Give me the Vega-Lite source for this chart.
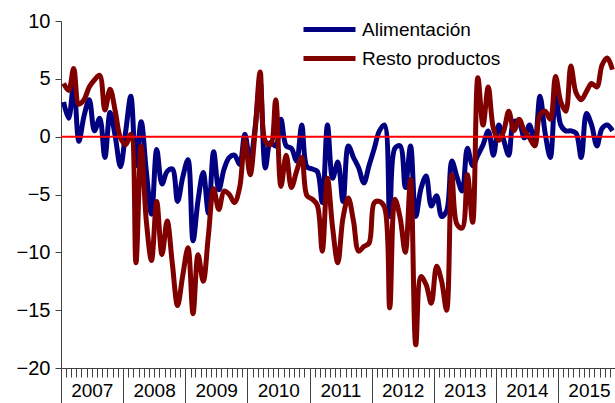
{
  "$schema": "https://vega.github.io/schema/vega-lite/v6.json",
  "width": 554,
  "height": 347,
  "autosize": {"type": "none"},
  "padding": {"left": 61, "top": 21, "right": 0, "bottom": 35},
  "background": "white",
  "config": {"view": {"stroke": null}, "font": "Liberation Sans"},
  "data": {"values": [
    {"fecha": "2007-01-01", "Alimentación": 3.0, "Resto productos": 4.6},
    {"fecha": "2007-02-01", "Alimentación": 1.6, "Resto productos": 4.0},
    {"fecha": "2007-03-01", "Alimentación": 4.5, "Resto productos": 5.9},
    {"fecha": "2007-04-01", "Alimentación": -0.4, "Resto productos": 2.8},
    {"fecha": "2007-05-01", "Alimentación": 1.8, "Resto productos": 3.2},
    {"fecha": "2007-06-01", "Alimentación": 3.2, "Resto productos": 4.3},
    {"fecha": "2007-07-01", "Alimentación": 0.5, "Resto productos": 4.9},
    {"fecha": "2007-08-01", "Alimentación": 1.6, "Resto productos": 5.3},
    {"fecha": "2007-09-01", "Alimentación": -1.8, "Resto productos": 2.3},
    {"fecha": "2007-10-01", "Alimentación": 2.1, "Resto productos": 4.1},
    {"fecha": "2007-11-01", "Alimentación": 0.0, "Resto productos": 2.2},
    {"fecha": "2007-12-01", "Alimentación": -2.6, "Resto productos": -0.1},
    {"fecha": "2008-01-01", "Alimentación": 0.5, "Resto productos": -0.7},
    {"fecha": "2008-02-01", "Alimentación": 3.5, "Resto productos": 0.2},
    {"fecha": "2008-03-01", "Alimentación": -2.5, "Resto productos": -10.9},
    {"fecha": "2008-04-01", "Alimentación": 1.3, "Resto productos": -0.8},
    {"fecha": "2008-05-01", "Alimentación": -3.0, "Resto productos": -7.3},
    {"fecha": "2008-06-01", "Alimentación": -6.7, "Resto productos": -10.7},
    {"fecha": "2008-07-01", "Alimentación": -1.1, "Resto productos": -5.6},
    {"fecha": "2008-08-01", "Alimentación": -4.1, "Resto productos": -10.2},
    {"fecha": "2008-09-01", "Alimentación": -3.0, "Resto productos": -7.3},
    {"fecha": "2008-10-01", "Alimentación": -2.8, "Resto productos": -11.0},
    {"fecha": "2008-11-01", "Alimentación": -5.6, "Resto productos": -14.6},
    {"fecha": "2008-12-01", "Alimentación": -3.5, "Resto productos": -12.0},
    {"fecha": "2009-01-01", "Alimentación": -2.0, "Resto productos": -9.6},
    {"fecha": "2009-02-01", "Alimentación": -9.0, "Resto productos": -15.3},
    {"fecha": "2009-03-01", "Alimentación": -5.5, "Resto productos": -10.2},
    {"fecha": "2009-04-01", "Alimentación": -3.1, "Resto productos": -12.5},
    {"fecha": "2009-05-01", "Alimentación": -6.6, "Resto productos": -8.5},
    {"fecha": "2009-06-01", "Alimentación": -1.3, "Resto productos": -4.5},
    {"fecha": "2009-07-01", "Alimentación": -4.6, "Resto productos": -6.3},
    {"fecha": "2009-08-01", "Alimentación": -2.8, "Resto productos": -4.7},
    {"fecha": "2009-09-01", "Alimentación": -1.8, "Resto productos": -5.0},
    {"fecha": "2009-10-01", "Alimentación": -1.6, "Resto productos": -5.7},
    {"fecha": "2009-11-01", "Alimentación": -2.4, "Resto productos": -4.4},
    {"fecha": "2009-12-01", "Alimentación": 0.2, "Resto productos": -0.3},
    {"fecha": "2010-01-01", "Alimentación": -2.1, "Resto productos": -3.3},
    {"fecha": "2010-02-01", "Alimentación": 0.8, "Resto productos": 0.5},
    {"fecha": "2010-03-01", "Alimentación": 4.8, "Resto productos": 5.6},
    {"fecha": "2010-04-01", "Alimentación": -2.7, "Resto productos": -0.4},
    {"fecha": "2010-05-01", "Alimentación": -0.5, "Resto productos": -0.7},
    {"fecha": "2010-06-01", "Alimentación": -0.8, "Resto productos": 3.2},
    {"fecha": "2010-07-01", "Alimentación": 1.5, "Resto productos": -4.3},
    {"fecha": "2010-08-01", "Alimentación": -0.8, "Resto productos": -1.6},
    {"fecha": "2010-09-01", "Alimentación": -1.0, "Resto productos": -4.4},
    {"fecha": "2010-10-01", "Alimentación": -2.1, "Resto productos": -3.0},
    {"fecha": "2010-11-01", "Alimentación": 1.0, "Resto productos": -1.8},
    {"fecha": "2010-12-01", "Alimentación": -2.6, "Resto productos": -5.1},
    {"fecha": "2011-01-01", "Alimentación": -2.8, "Resto productos": -5.4},
    {"fecha": "2011-02-01", "Alimentación": -3.0, "Resto productos": -5.9},
    {"fecha": "2011-03-01", "Alimentación": -5.7, "Resto productos": -9.9},
    {"fecha": "2011-04-01", "Alimentación": 1.0, "Resto productos": -3.6},
    {"fecha": "2011-05-01", "Alimentación": -3.6, "Resto productos": -7.9},
    {"fecha": "2011-06-01", "Alimentación": -2.2, "Resto productos": -10.9},
    {"fecha": "2011-07-01", "Alimentación": -5.6, "Resto productos": -7.0},
    {"fecha": "2011-08-01", "Alimentación": -0.8, "Resto productos": -5.3},
    {"fecha": "2011-09-01", "Alimentación": -1.8, "Resto productos": -7.3},
    {"fecha": "2011-10-01", "Alimentación": -2.7, "Resto productos": -9.9},
    {"fecha": "2011-11-01", "Alimentación": -4.0, "Resto productos": -9.5},
    {"fecha": "2011-12-01", "Alimentación": -2.5, "Resto productos": -9.2},
    {"fecha": "2012-01-01", "Alimentación": -1.0, "Resto productos": -5.7},
    {"fecha": "2012-02-01", "Alimentación": 0.5, "Resto productos": -5.6},
    {"fecha": "2012-03-01", "Alimentación": 1.0, "Resto productos": -6.1},
    {"fecha": "2012-04-01", "Alimentación": -6.9, "Resto productos": -14.8},
    {"fecha": "2012-05-01", "Alimentación": -1.0, "Resto productos": -5.4},
    {"fecha": "2012-06-01", "Alimentación": -0.8, "Resto productos": -7.0},
    {"fecha": "2012-07-01", "Alimentación": -4.4, "Resto productos": -10.0},
    {"fecha": "2012-08-01", "Alimentación": -0.8, "Resto productos": -3.7},
    {"fecha": "2012-09-01", "Alimentación": -6.9, "Resto productos": -18.0},
    {"fecha": "2012-10-01", "Alimentación": -4.5, "Resto productos": -12.1},
    {"fecha": "2012-11-01", "Alimentación": -3.4, "Resto productos": -12.8},
    {"fecha": "2012-12-01", "Alimentación": -6.0, "Resto productos": -14.4},
    {"fecha": "2013-01-01", "Alimentación": -5.1, "Resto productos": -11.2},
    {"fecha": "2013-02-01", "Alimentación": -6.9, "Resto productos": -12.5},
    {"fecha": "2013-03-01", "Alimentación": -6.4, "Resto productos": -15.0},
    {"fecha": "2013-04-01", "Alimentación": -2.1, "Resto productos": -3.3},
    {"fecha": "2013-05-01", "Alimentación": -3.5, "Resto productos": -7.6},
    {"fecha": "2013-06-01", "Alimentación": -4.7, "Resto productos": -7.9},
    {"fecha": "2013-07-01", "Alimentación": -1.0, "Resto productos": -3.3},
    {"fecha": "2013-08-01", "Alimentación": -2.5, "Resto productos": -7.4},
    {"fecha": "2013-09-01", "Alimentación": -1.6, "Resto productos": 5.1},
    {"fecha": "2013-10-01", "Alimentación": -0.7, "Resto productos": 1.0},
    {"fecha": "2013-11-01", "Alimentación": 0.5, "Resto productos": 4.3},
    {"fecha": "2013-12-01", "Alimentación": -1.6, "Resto productos": 0.7},
    {"fecha": "2014-01-01", "Alimentación": 1.0, "Resto productos": -0.3},
    {"fecha": "2014-02-01", "Alimentación": -0.3, "Resto productos": 0.5},
    {"fecha": "2014-03-01", "Alimentación": -1.6, "Resto productos": 2.2},
    {"fecha": "2014-04-01", "Alimentación": 1.3, "Resto productos": 0.5},
    {"fecha": "2014-05-01", "Alimentación": 1.2, "Resto productos": 1.5},
    {"fecha": "2014-06-01", "Alimentación": -0.1, "Resto productos": 0.5},
    {"fecha": "2014-07-01", "Alimentación": 1.0, "Resto productos": -0.1},
    {"fecha": "2014-08-01", "Alimentación": -0.5, "Resto productos": -0.8},
    {"fecha": "2014-09-01", "Alimentación": 3.5, "Resto productos": 1.9},
    {"fecha": "2014-10-01", "Alimentación": 0.3, "Resto productos": 2.2},
    {"fecha": "2014-11-01", "Alimentación": -1.8, "Resto productos": 1.5},
    {"fecha": "2014-12-01", "Alimentación": 3.6, "Resto productos": 5.2},
    {"fecha": "2015-01-01", "Alimentación": 1.0, "Resto productos": 3.0},
    {"fecha": "2015-02-01", "Alimentación": 0.5, "Resto productos": 2.2},
    {"fecha": "2015-03-01", "Alimentación": 0.5, "Resto productos": 6.1},
    {"fecha": "2015-04-01", "Alimentación": 0.3, "Resto productos": 3.8},
    {"fecha": "2015-05-01", "Alimentación": -1.8, "Resto productos": 3.2},
    {"fecha": "2015-06-01", "Alimentación": 2.0, "Resto productos": 3.9},
    {"fecha": "2015-07-01", "Alimentación": 1.0, "Resto productos": 4.6},
    {"fecha": "2015-08-01", "Alimentación": -0.8, "Resto productos": 4.3},
    {"fecha": "2015-09-01", "Alimentación": 0.7, "Resto productos": 6.2},
    {"fecha": "2015-10-01", "Alimentación": 1.0, "Resto productos": 6.8},
    {"fecha": "2015-11-01", "Alimentación": 0.5, "Resto productos": 5.8}
  ]},
  "layer": [
    {
      "transform": [{"fold": ["Alimentación", "Resto productos"], "as": ["serie", "valor"]}],
      "mark": {"type": "line", "interpolate": "catmull-rom", "strokeWidth": 5, "clip": true},
      "encoding": {
        "x": {
          "field": "fecha", "type": "temporal", "timeUnit": "utcyearmonth", "bandPosition": 0.5,
          "scale": {"domain": [{"year": 2007, "month": 1, "date": 1, "utc": true}, {"year": 2015, "month": 12, "date": 1, "utc": true}], "nice": false},
          "axis": {
            "title": null, "grid": false,
            "tickCount": {"interval": "month", "step": 1},
            "tickSize": {"condition": {"test": "utcmonth(datum.value) === 0", "value": 35}, "value": 9},
            "tickWidth": 1,
            "labelExpr": "utcmonth(datum.value) === 6 ? utcFormat(datum.value, '%Y') : ''",
            "labelOverlap": false, "labelFlush": false, "labelBound": false,
            "labelPadding": 4, "labelFontSize": 19, "labelColor": "#000", "labelAngle": 0,
            "domainColor": "#404040", "tickColor": "#404040"
          }
        },
        "y": {
          "field": "valor", "type": "quantitative",
          "scale": {"domain": [-20, 10], "nice": false},
          "axis": {
            "title": null, "grid": false, "values": [-20, -15, -10, -5, 0, 5, 10],
            "tickSize": 6, "labelPadding": 5, "labelFontSize": 20, "labelColor": "#000",
            "domainColor": "#404040", "tickColor": "#404040"
          }
        },
        "color": {
          "field": "serie", "type": "nominal",
          "scale": {"domain": ["Alimentación", "Resto productos"], "range": ["#000080", "#800000"]},
          "legend": {
            "title": null, "orient": "none", "legendX": 240, "legendY": -6,
            "symbolType": "stroke", "symbolStrokeWidth": 5, "symbolSize": 2704,
            "labelFontSize": 19, "labelColor": "#000", "labelOffset": 4,
            "clipHeight": 29, "rowPadding": 0, "padding": 0
          }
        }
      }
    },
    {
      "data": {"values": [{"referencia": 0}]},
      "mark": {"type": "rule", "color": "#ff0000", "strokeWidth": 2},
      "encoding": {"y": {"field": "referencia", "type": "quantitative"}}
    }
  ]
}
